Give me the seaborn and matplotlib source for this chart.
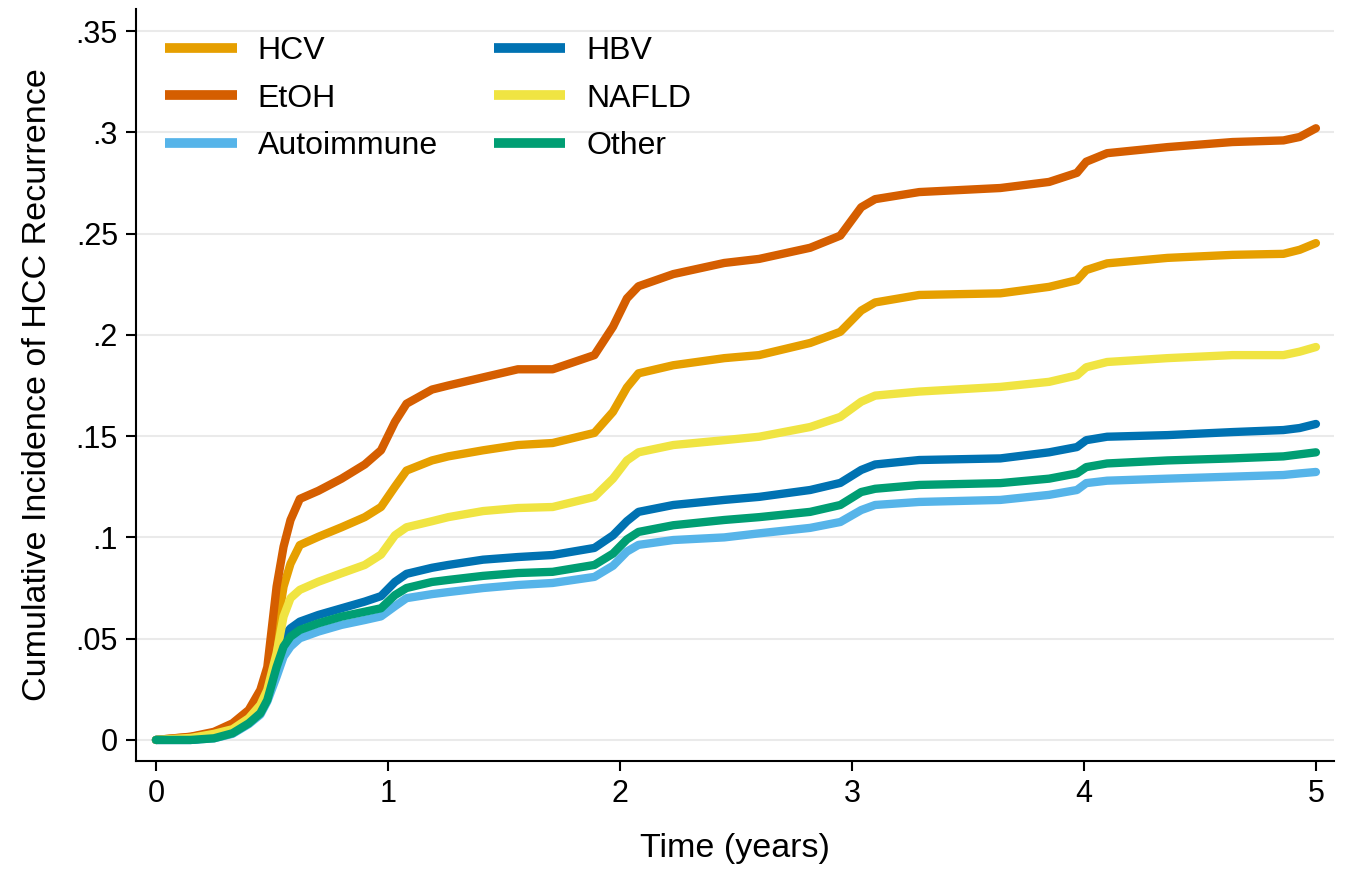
import pandas as pd
import numpy as np
import matplotlib
matplotlib.use("Agg")
import matplotlib.pyplot as plt
import seaborn as sns

sns.set_style("white")
plt.rcParams["font.family"] = ["Liberation Sans", "DejaVu Sans"]

# Time points (years)
time_years = [0, 0.15, 0.25, 0.33, 0.4, 0.45, 0.48, 0.52, 0.55, 0.58,
              0.62, 0.7, 0.8, 0.9, 0.97, 1.03, 1.08, 1.19, 1.26, 1.41,
              1.56, 1.71, 1.89, 1.97, 2.03, 2.08, 2.23, 2.45, 2.6, 2.82,
              2.95, 3.04, 3.1, 3.29, 3.64, 3.85, 3.97, 4.01, 4.1, 4.36,
              4.64, 4.86, 4.93, 5.0]

hcv = [0, 0.0015, 0.0033, 0.0066, 0.0124, 0.0197, 0.028, 0.054, 0.0757, 0.087,
       0.0962, 0.1003, 0.105, 0.110, 0.115, 0.125, 0.133, 0.138, 0.140, 0.143,
       0.1456, 0.1466, 0.1516, 0.162, 0.174, 0.181, 0.185, 0.1885, 0.190, 0.196,
       0.2015, 0.212, 0.216, 0.2197, 0.2205, 0.2237, 0.227, 0.232, 0.2353, 0.238,
       0.2395, 0.240, 0.242, 0.2453]

etoh = [0, 0.0016, 0.004, 0.0082, 0.0148, 0.0247, 0.036, 0.0757, 0.0954, 0.1086,
        0.119, 0.123, 0.129, 0.136, 0.143, 0.157, 0.166, 0.173, 0.175, 0.179,
        0.183, 0.183, 0.190, 0.204, 0.218, 0.224, 0.230, 0.2355, 0.2375, 0.243,
        0.249, 0.263, 0.267, 0.2705, 0.2725, 0.2755, 0.280, 0.2855, 0.2897, 0.2927,
        0.2952, 0.296, 0.2977, 0.302]

autoimmune = [0, 0.0, 0.0008, 0.003, 0.0078, 0.0125, 0.019, 0.0312, 0.0411, 0.0461,
              0.0502, 0.0535, 0.0568, 0.0592, 0.061, 0.066, 0.070, 0.072, 0.073, 0.075,
              0.0765, 0.0775, 0.0805, 0.086, 0.093, 0.0963, 0.0987, 0.100, 0.102, 0.1047,
              0.1076, 0.1135, 0.116, 0.1175, 0.1185, 0.121, 0.1234, 0.1268, 0.128, 0.129,
              0.130, 0.1308, 0.1316, 0.1323]

hbv = [0, 0.0, 0.0013, 0.0041, 0.009, 0.014, 0.0214, 0.0411, 0.051, 0.0551,
       0.0584, 0.0617, 0.065, 0.0683, 0.071, 0.078, 0.082, 0.085, 0.0864, 0.089,
       0.0903, 0.0913, 0.0948, 0.101, 0.108, 0.1126, 0.116, 0.1185, 0.120, 0.1234,
       0.1269, 0.1333, 0.136, 0.1382, 0.139, 0.142, 0.1446, 0.148, 0.1497, 0.1505,
       0.152, 0.153, 0.154, 0.156]

nafld = [0, 0.001, 0.003, 0.0053, 0.0107, 0.0173, 0.0247, 0.0428, 0.0609, 0.070,
         0.0741, 0.0781, 0.0823, 0.0864, 0.0915, 0.101, 0.105, 0.108, 0.110, 0.113,
         0.1145, 0.115, 0.120, 0.129, 0.138, 0.142, 0.1456, 0.148, 0.1497, 0.1545,
         0.1595, 0.167, 0.170, 0.172, 0.1743, 0.1768, 0.180, 0.184, 0.1866, 0.1885,
         0.190, 0.190, 0.1917, 0.194]

other = [0, 0.0, 0.0008, 0.0033, 0.0082, 0.0132, 0.0197, 0.036, 0.0461, 0.051,
         0.0543, 0.0576, 0.0609, 0.0633, 0.065, 0.0715, 0.075, 0.078, 0.079, 0.081,
         0.0824, 0.083, 0.0864, 0.092, 0.099, 0.1027, 0.106, 0.1086, 0.110, 0.1126,
         0.116, 0.1224, 0.124, 0.1259, 0.1268, 0.129, 0.1316, 0.1347, 0.1365, 0.138,
         0.139, 0.140, 0.141, 0.142]

groups = ["HCV", "EtOH", "Autoimmune", "HBV", "NAFLD", "Other"]
colors = ["#E69F00", "#D55E00", "#56B4E9", "#0072B2", "#F0E442", "#009E73"]

x_ticks = [0, 1, 2, 3, 4, 5]
y_ticks = [0, 0.05, 0.1, 0.15, 0.2, 0.25, 0.3, 0.35]
y_tick_labels = ["0", ".05", ".1", ".15", ".2", ".25", ".3", ".35"]

# long format table for seaborn
series = [hcv, etoh, autoimmune, hbv, nafld, other]
df = pd.concat(
    [pd.DataFrame({"time": time_years, "cif": s, "group": g}) for g, s in zip(groups, series)],
    ignore_index=True,
)

fig = plt.figure(figsize=(13.52, 8.71), dpi=100)
ax = fig.add_axes([0.1006, 0.1263, 0.8861, 0.8634])

sns.lineplot(data=df, x="time", y="cif", hue="group", hue_order=groups,
             palette=dict(zip(groups, colors)), linewidth=6, ax=ax,
             solid_capstyle="round", solid_joinstyle="round")

ax.set_xlim(-0.086, 5.078)
ax.set_ylim(-0.0104, 0.3609)
ax.set_xticks(x_ticks)
ax.set_xticklabels([str(t) for t in x_ticks])
ax.set_yticks(y_ticks)
ax.set_yticklabels(y_tick_labels)

ax.yaxis.grid(True, color="#EAEAEA", linewidth=1.5)
ax.xaxis.grid(False)
ax.set_axisbelow(True)

for side in ["top", "right"]:
    ax.spines[side].set_visible(False)
for side in ["left", "bottom"]:
    ax.spines[side].set_linewidth(1.5)
    ax.spines[side].set_color("black")

ax.tick_params(axis="both", which="major", direction="out", length=7, width=1.5,
               labelsize=22, colors="black", pad=6, left=True, bottom=True)

ax.set_xlabel("Time (years)", fontsize=24.5, labelpad=17, color="black")
ax.set_ylabel("Cumulative Incidence of HCC Recurrence", fontsize=24.5,
              labelpad=16, color="black")

handles, labels = ax.get_legend_handles_labels()
leg = ax.legend(handles, labels, ncol=2, loc="upper left", frameon=False,
                bbox_to_anchor=(0.122, 0.959), bbox_transform=fig.transFigure,
                fontsize=23, handlelength=2.25, handletextpad=0.65,
                columnspacing=1.75, labelspacing=0.56, borderpad=0, borderaxespad=0)
for line in leg.get_lines():
    line.set_linewidth(7)
    line.set_solid_capstyle("butt")
for text in leg.get_texts():
    text.set_color("black")

fig.savefig("out.png", dpi=100)
